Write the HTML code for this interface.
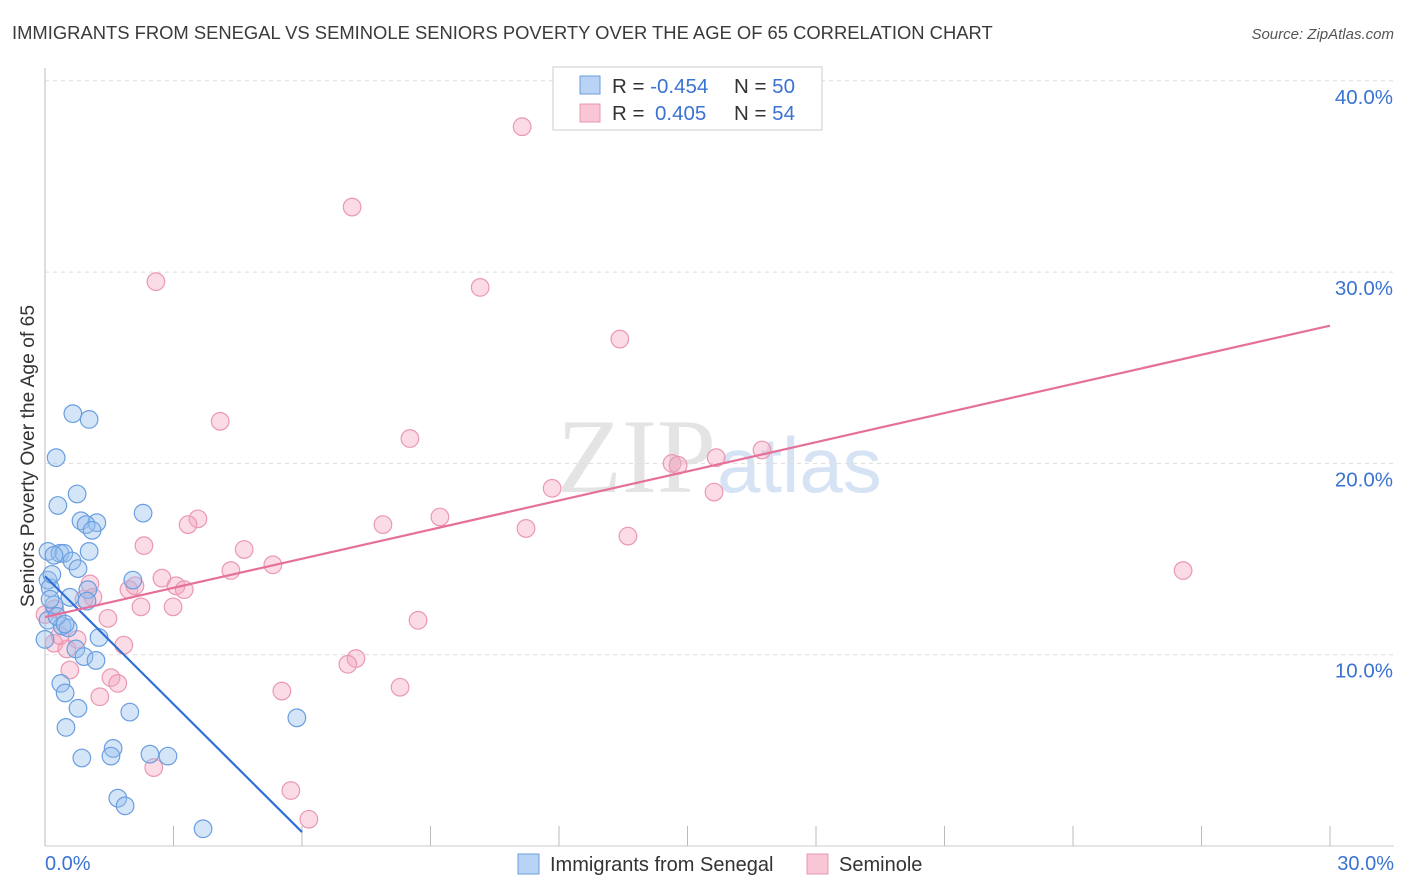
<!DOCTYPE html>
<html><head><meta charset="utf-8"><style>
body{margin:0;background:#fff;font-family:"Liberation Sans",sans-serif;}
#c{position:relative;width:1406px;height:892px;overflow:hidden;}
</style></head><body>
<div id="c">
<svg id="s" width="1406" height="892" xmlns="http://www.w3.org/2000/svg">
<text x="12" y="39" font-size="18.4" fill="#3a3a3a">IMMIGRANTS FROM SENEGAL VS SEMINOLE SENIORS POVERTY OVER THE AGE OF 65 CORRELATION CHART</text>
<text x="1394" y="39" font-size="15" font-style="italic" fill="#555" text-anchor="end">Source: ZipAtlas.com</text>
<text x="716" y="492" font-size="106" fill="#e4e4e4" text-anchor="end" font-family="Liberation Serif, serif">ZIP</text>
<text x="717" y="492" font-size="78" fill="#d6e3f5">atlas</text>
<text transform="translate(34,456) rotate(-90)" font-size="19.3" fill="#333" text-anchor="middle">Seniors Poverty Over the Age of 65</text>
<g id="grid"></g><g id="pts"></g><g id="lines"></g>
<g>
<rect x="553" y="67" width="269" height="63" fill="#fff" stroke="#ccc"/>
<rect x="580" y="76" width="20" height="18" fill="#b9d3f5" stroke="#6a9ee0"/>
<rect x="580" y="104" width="20" height="18" fill="#f8c6d5" stroke="#ea97b0"/>
<text x="612" y="93" font-size="20.5" fill="#333">R = <tspan fill="#3b73d1">-0.454</tspan><tspan x="734">N = </tspan><tspan fill="#3b73d1">50</tspan></text>
<text x="612" y="120" font-size="20.5" fill="#333">R = <tspan x="655" fill="#3b73d1">0.405</tspan><tspan x="734">N = </tspan><tspan fill="#3b73d1">54</tspan></text>
</g>
<g>
<rect x="518" y="854" width="21" height="20" fill="#b9d3f5" stroke="#6a9ee0"/>
<text x="550" y="871" font-size="20" fill="#333">Immigrants from Senegal</text>
<rect x="807" y="854" width="21" height="20" fill="#f8c6d5" stroke="#ea97b0"/>
<text x="839" y="871" font-size="20" fill="#333">Seminole</text>
</g>
</svg>
</div>
<script>
const xTicks=[0,30];
const yTicks=[10,20,30,40];
const blueX=[0.65,1.03,0.26,0.75,0.30,2.29,0.84,1.21,0.96,1.10,1.03,0.07,0.35,0.44,0.21,0.63,0.77,0.07,2.05,0.12,1.00,0.58,0.21,0.98,0.07,0.40,0.54,0.72,1.26,0.91,1.19,0.37,0.47,0.77,1.98,0.49,1.59,0.86,1.54,2.45,2.87,1.70,1.87,3.69,5.88,0.28,0.47,0.00,0.12,0.16];
const blueY=[22.6,22.3,20.3,18.4,17.8,17.4,17.0,16.9,16.8,16.5,15.4,15.4,15.3,15.3,15.2,14.9,14.5,13.9,13.9,13.5,13.4,13.0,12.6,12.8,11.8,11.5,11.4,10.3,10.9,9.9,9.7,8.5,8.0,7.2,7.0,6.2,5.1,4.6,4.7,4.8,4.7,2.5,2.1,0.9,6.7,12.0,11.6,10.8,12.9,14.2];
const pinkX=[11.14,7.17,2.59,10.16,13.42,4.09,8.52,16.74,15.67,14.64,14.78,11.84,15.62,3.57,3.34,7.89,9.22,11.23,13.61,2.31,4.65,5.32,26.57,4.34,2.73,1.05,3.06,3.25,1.96,2.10,1.12,2.24,2.99,1.47,8.71,1.84,0.75,0.21,0.51,7.26,7.07,0.58,1.54,1.70,1.28,5.53,8.29,2.54,5.74,6.16,0.00,0.23,0.91,0.35];
const pinkY=[37.6,33.4,29.5,29.2,26.5,22.2,21.3,20.7,20.3,20.0,19.9,18.7,18.5,17.1,16.8,16.8,17.2,16.6,16.2,15.7,15.5,14.7,14.4,14.4,14.0,13.7,13.6,13.4,13.4,13.6,13.0,12.5,12.5,11.9,11.8,10.5,10.8,10.6,10.3,9.8,9.5,9.2,8.8,8.5,7.8,8.1,8.3,4.1,2.9,1.4,12.1,12.4,12.9,11.0];
const blueTrend=[[0,14.1],[6.0,0.73]];
const pinkTrend=[[0,11.97],[30,27.2]];
const NS="http://www.w3.org/2000/svg";
const X=v=>45+v*(1285/30);
const Y=v=>846-v*19.13;
function mk(t,a,p){const e=document.createElementNS(NS,t);for(const k in a)e.setAttribute(k,a[k]);p.appendChild(e);return e;}
const grid=document.getElementById('grid');
mk('line',{x1:45,y1:68,x2:45,y2:846,stroke:'#bbb'},grid);
mk('line',{x1:45,y1:846,x2:1394,y2:846,stroke:'#ccc'},grid);
yTicks.forEach(t=>{
 const l=mk('line',{x1:45,y1:Y(t),x2:1394,y2:Y(t),stroke:'#ddd','stroke-dasharray':'4,4'},grid);
 
 
 const tx=mk('text',{x:1393,y:Y(t)+23,'font-size':20.5,fill:'#3b73d1','text-anchor':'end'},grid);
 tx.textContent=t.toFixed(1)+'%';
 
 
});
for(let k=0;k<=10;k++){const xv=k*3;mk('line',{x1:X(xv),y1:826,x2:X(xv),y2:846,stroke:'#bbb'},grid);}
xTicks.forEach((t,i)=>{
 const tx=mk('text',{x:i==0?45:1394,y:870,'font-size':20,fill:'#3b73d1','text-anchor':i==0?'start':'end'},grid);
 tx.textContent=t.toFixed(1)+'%';
 
 
});
const pts=document.getElementById('pts');
pinkX.forEach((v,i)=>{const c=mk('circle',{cx:X(v),cy:Y(pinkY[i]),r:8.8,fill:'rgba(244,166,190,0.4)',stroke:'#eb98b2','stroke-width':1.2},pts);
 
 });
blueX.forEach((v,i)=>{const c=mk('circle',{cx:X(v),cy:Y(blueY[i]),r:8.8,fill:'rgba(150,190,238,0.4)',stroke:'#6a9ee0','stroke-width':1.2},pts);
 
 });
const lines=document.getElementById('lines');
const bl=mk('line',{x1:X(blueTrend[0][0]),y1:Y(blueTrend[0][1]),x2:X(blueTrend[1][0]),y2:Y(blueTrend[1][1]),stroke:'#2e6fd6','stroke-width':2.2},lines);


const pl=mk('line',{x1:X(pinkTrend[0][0]),y1:Y(pinkTrend[0][1]),x2:X(pinkTrend[1][0]),y2:Y(pinkTrend[1][1]),stroke:'#e5709a','stroke-width':2.2},lines);


</script>
</body></html>
